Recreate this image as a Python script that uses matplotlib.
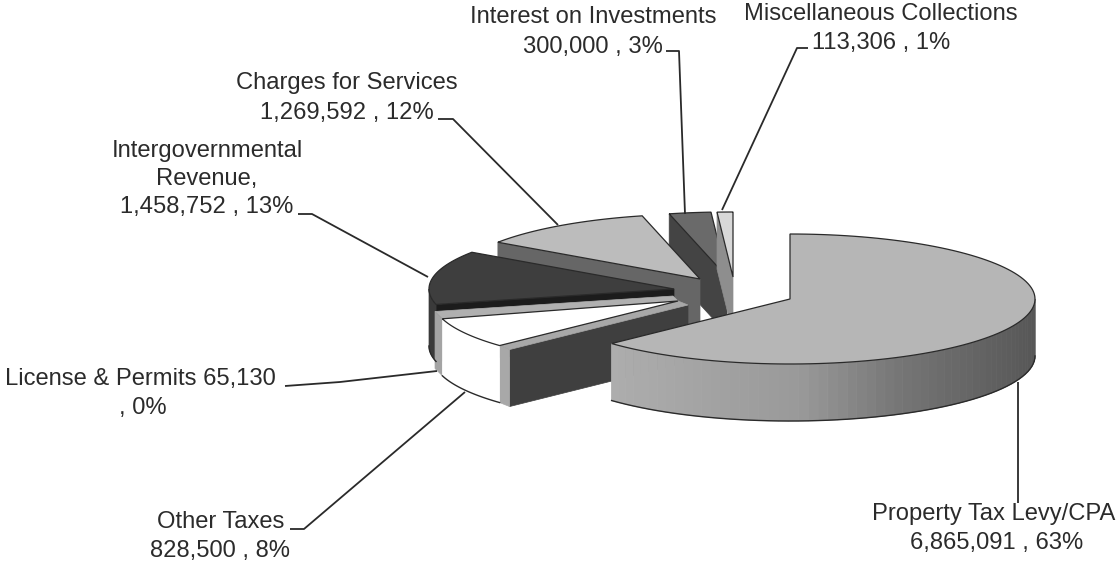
import matplotlib
matplotlib.use("Agg")
import matplotlib.pyplot as plt
from matplotlib.patches import Polygon
import numpy as np

plt.rcParams['font.family'] = ['Liberation Sans', 'DejaVu Sans']

# slices run clockwise from 12 o'clock
names = ["Property Tax Levy/CPA", "Other Taxes", "License & Permits", "Intergovernmental Revenue",
         "Charges for Services", "Interest on Investments", "Miscellaneous Collections"]
values = [6865091, 828500, 65130, 1458752, 1269592, 300000, 113306]
pct_labels = ["63%", "8%", "0%", "13%", "12%", "3%", "1%"]

# exploded apex of each slice, in pixels
apex = [(790, 299), (678, 301), (673, 296), (674, 289), (700, 279), (727, 277), (733, 277)]
top_colors = ["#b6b6b6", "#ffffff", "#b0b0b0", "#3e3e3e", "#bcbcbc", "#6a6a6a", "#d8d8d8"]
radial_colors = [None, "#3f3f3f", None, "#1c1c1c", "#666666", "#444444", "#8e8e8e"]
wall_colors = [None, "#ffffff", "#a4a4a4", "#3a3a3a", "#777777", "#444444", "#8e8e8e"]

RX = 245
RY = 65
DEPTH = 57
LINE = "#2a2a2a"
TEXT = "#2b2b2b"
FS = 17.1

fig = plt.figure(figsize=(11.16, 5.65), dpi=100)
ax = fig.add_axes([0, 0, 1, 1])
ax.set_xlim(0, 1116)
ax.set_ylim(565, 0)
ax.axis("off")


def ell(c, deg):
    t = np.radians(deg)
    return np.column_stack([c[0] + RX * np.sin(t), c[1] - RY * np.cos(t)])


def outer_wall(i, a0, a1):
    # only the front half of the rim can be seen
    lo, hi = max(a0, 90), min(a1, 270)
    if hi <= lo:
        return
    t = np.linspace(lo, hi, 60)
    pts = ell(apex[i], t)
    if wall_colors[i] is None:
        # property rim goes from light on the left to dark on the right
        for k in range(len(t) - 1):
            xm = (pts[k, 0] + pts[k + 1, 0]) / 2
            g = np.interp(xm, [610, 800, 900, 1035], [0.68, 0.60, 0.46, 0.34])
            quad = [pts[k], pts[k + 1], pts[k + 1] + (0, DEPTH), pts[k] + (0, DEPTH)]
            ax.add_patch(Polygon(quad, fc=str(g), ec=str(g), lw=0.6))
    else:
        poly = np.vstack([pts, pts[::-1] + (0, DEPTH)])
        ax.add_patch(Polygon(poly, fc=wall_colors[i], ec=wall_colors[i], lw=0.5))
    ax.plot(pts[:, 0], pts[:, 1] + DEPTH, color=LINE, lw=1)


def radial_wall(i, deg, shift=(0, 0)):
    p = ell(apex[i], deg)[0] + shift
    c = np.array(apex[i]) + shift
    poly = [c, p, p + (0, DEPTH), c + (0, DEPTH)]
    ax.add_patch(Polygon(poly, fc=radial_colors[i], ec=radial_colors[i], lw=0.5))


def top_face(i, a0, a1):
    t = np.linspace(a0, a1, 120)
    poly = np.vstack([[apex[i]], ell(apex[i], t)])
    ax.add_patch(Polygon(poly, fc=top_colors[i], ec=LINE, lw=0.9))


edges = np.concatenate([[0], np.cumsum(values)]) / sum(values) * 360
a0s, a1s = edges[:-1], edges[1:]

# back to front
for i in [5, 6, 4, 3, 2, 1, 0]:
    if i == 2:
        # the tiny license slice shows as a grey band up against the white slice
        p = ell(apex[2], a1s[2])[0]
        q = ell(apex[1], a0s[2])[0]
        ax.add_patch(Polygon([apex[2], p, q, apex[1]], fc=top_colors[2], ec=top_colors[2], lw=0.5))
        ax.add_patch(Polygon([p, q, q + (0, DEPTH), p + (0, DEPTH)],
                             fc=wall_colors[2], ec=wall_colors[2], lw=0.5))
        continue
    if i == 1:
        # white slice has a pale strip next to its dark side
        shift = np.array((10, 4))
        radial_wall(i, a0s[i], shift)
        p = ell(apex[i], a0s[i])[0]
        c = np.array(apex[i])
        ax.add_patch(Polygon([c, p, p + shift, c + shift], fc="#a8a8a8", ec="#a8a8a8", lw=0.5))
        ax.add_patch(Polygon([p, p + shift, p + shift + (0, DEPTH), p + (0, DEPTH)],
                             fc="#a8a8a8", ec="#a8a8a8", lw=0.5))
    elif radial_colors[i] is not None:
        radial_wall(i, a0s[i])
    outer_wall(i, a0s[i], a1s[i])
    top_face(i, a0s[i], a1s[i])

# leader lines
leaders = [
    [(1018, 382), (1018, 503)],
    [(290, 529), (304, 529), (465, 392)],
    [(285, 386), (340, 382), (437, 371)],
    [(298, 214), (312, 214), (428, 277)],
    [(438, 119), (453, 119), (558, 225)],
    [(666, 51), (679, 51), (685, 214)],
    [(808, 48), (797, 48), (722, 210)],
]
for pts in leaders:
    xs, ys = zip(*pts)
    ax.plot(xs, ys, color=LINE, lw=1.3, solid_capstyle="butt", zorder=5)

# labels, value text comes from the data
val_text = [f"{v:,} , {p}" for v, p in zip(values, pct_labels)]
lab_lines = [
    (994, 514, names[0]), (997, 543, val_text[0]),
    (221, 522, names[1]), (220, 551, val_text[1]),
    (140, 379, f"{names[2]} {values[2]:,}"), (143, 408, ", " + pct_labels[2]),
    (207, 151, "Intergovernmental"), (207, 179, "Revenue,"), (207, 207, val_text[3]),
    (347, 83, names[4]), (347, 113, val_text[4]),
    (593, 17, names[5]), (593, 47, val_text[5]),
    (881, 14, names[6]), (881, 43, val_text[6]),
]
for x, y, s in lab_lines:
    ax.text(x, y, s, ha="center", va="center", fontsize=FS, color=TEXT, zorder=6)

fig.savefig("out.png", dpi=100)
